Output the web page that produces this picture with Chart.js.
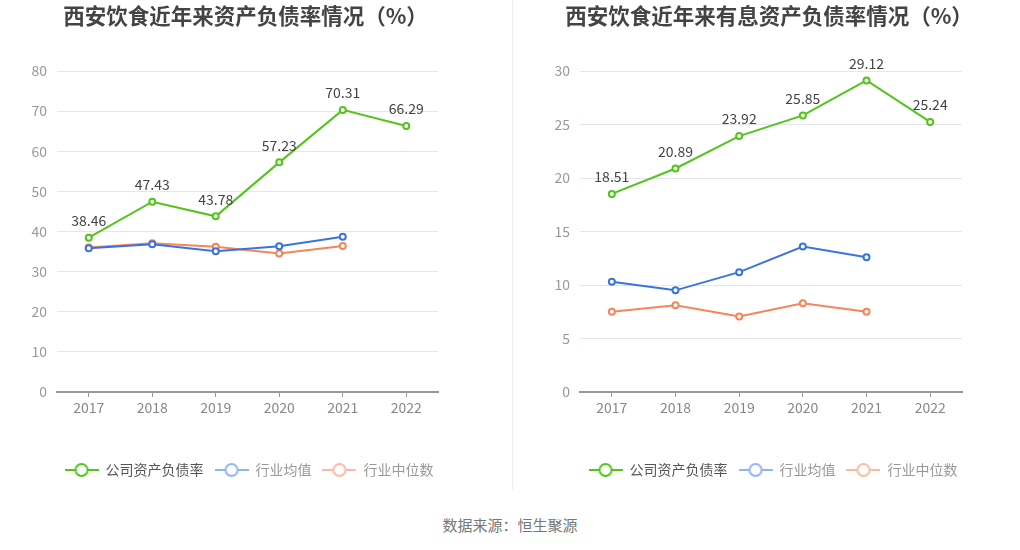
<!DOCTYPE html>
<html>
<head>
<meta charset="utf-8">
<script src="https://cdn.jsdelivr.net/npm/chart.js@4"></script>
<style>
  body { margin: 0; background: #fff; width: 1020px; height: 550px; position: relative; overflow: hidden; font-family: "Noto Sans CJK SC", sans-serif; }
  .box { position: absolute; top: 0; height: 500px; }
  #leftBox { left: 0; width: 510px; }
  #rightBox { left: 512px; width: 540px; }
  #divider { position: absolute; left: 512px; top: 0; width: 1px; height: 490px; background: #eeeeee; }
  #source { position: absolute; top: 514px; width: 1020px; text-align: center; font-size: 15px; color: #777; }
</style>
</head>
<body>
<div class="box" id="leftBox"><canvas id="leftChart"></canvas></div>
<div id="divider"></div>
<div class="box" id="rightBox"><canvas id="rightChart"></canvas></div>
<div id="source">数据来源：恒生聚源</div>
<script>
const years = ['2017', '2018', '2019', '2020', '2021', '2022'];
const seriesNames = ['公司资产负债率', '行业均值', '行业中位数'];

// left: 资产负债率
const debtRatio = [38.46, 47.43, 43.78, 57.23, 70.31, 66.29];
const debtIndustryAvg = [35.8, 36.8, 35.1, 36.3, 38.7, null];
const debtIndustryMedian = [36.0, 37.1, 36.2, 34.5, 36.4, null];
const leftTicks = [0, 10, 20, 30, 40, 50, 60, 70, 80];

// right: 有息资产负债率
const interestDebtRatio = [18.51, 20.89, 23.92, 25.85, 29.12, 25.24];
const interestIndustryAvg = [10.3, 9.5, 11.2, 13.6, 12.6, null];
const interestIndustryMedian = [7.5, 8.1, 7.05, 8.3, 7.5, null];
const rightTicks = [0, 5, 10, 15, 20, 25, 30];

const green = '#52c41a';
const blue = '#3a73e0';
const orange = '#f5855a';
const legendColors = [green, '#93b4f2', '#f9bba4'];
const legendText = ['#555', '#999', '#999'];
const font = "'Noto Sans CJK SC', sans-serif";

function markerImage(color) {
    const c = document.createElement('canvas');
    c.width = 34; c.height = 16;
    const g = c.getContext('2d');
    g.strokeStyle = color;
    g.lineWidth = 2;
    g.beginPath(); g.moveTo(0, 8); g.lineTo(34, 8); g.stroke();
    g.fillStyle = '#fff';
    g.beginPath(); g.arc(17, 8, 6, 0, Math.PI * 2); g.fill(); g.stroke();
    return c;
}

// value labels over the company series + title drawn over the plot centre
const extras = {
    id: 'extras',
    afterDatasetsDraw(chart, args, opts) {
        const ctx = chart.ctx;
        const meta = chart.getDatasetMeta(0);
        const data = chart.data.datasets[0].data;
        ctx.save();
        ctx.font = '14px ' + font;
        ctx.fillStyle = '#444';
        ctx.textAlign = 'center';
        ctx.textBaseline = 'bottom';
        meta.data.forEach(function (pt, i) {
            ctx.fillText(data[i].toFixed(2), pt.x, pt.y - 10);
        });
        const area = chart.chartArea;
        ctx.font = 'bold 21.5px ' + font;
        ctx.fillStyle = '#444';
        ctx.textBaseline = 'middle';
        ctx.fillText(opts.text, (area.left + area.right) / 2 - 2, 16);
        ctx.restore();
    }
};

function makeChart(id, title, main, avg, median, ticks, yWidth, rightGap, padRight) {
    const ds = function (label, data, color) {
        return {
            label: label,
            data: data,
            borderColor: color,
            backgroundColor: '#fff',
            borderWidth: 2,
            pointRadius: 3,
            pointBorderWidth: 2,
            pointBackgroundColor: '#fff',
            pointBorderColor: color,
            tension: 0
        };
    };
    return new Chart(document.getElementById(id), {
        type: 'line',
        data: {
            labels: years,
            datasets: [
                ds(seriesNames[0], main, green),
                ds(seriesNames[1], avg, blue),
                ds(seriesNames[2], median, orange)
            ]
        },
        options: {
            responsive: true,
            maintainAspectRatio: false,
            animation: false,
            layout: { padding: { left: 0, right: padRight, top: 71, bottom: 13 } },
            plugins: {
                extras: { text: title },
                legend: {
                    position: 'bottom',
                    labels: {
                        usePointStyle: true,
                        pointStyleWidth: 34,
                        padding: 11,
                        font: { size: 14, family: font },
                        generateLabels: function (chart) {
                            return chart.data.datasets.map(function (d, i) {
                                return {
                                    text: d.label,
                                    pointStyle: markerImage(legendColors[i]),
                                    fontColor: legendText[i],
                                    datasetIndex: i,
                                    hidden: false,
                                    lineWidth: 0
                                };
                            });
                        }
                    }
                },
                tooltip: { enabled: false }
            },
            scales: {
                x: {
                    offset: true,
                    grid: { offset: false, drawOnChartArea: false, drawTicks: true, tickLength: 5, color: '#999' },
                    border: { color: '#999', width: 2 },
                    ticks: { color: '#888', padding: 2, font: { size: 14, family: font } },
                    afterFit: function (axis) { axis.height = 60; }
                },
                y: {
                    min: ticks[0],
                    max: ticks[ticks.length - 1],
                    afterBuildTicks: function (axis) {
                        axis.ticks = ticks.map(function (v) { return { value: v }; });
                    },
                    grid: { color: '#e3e6f0', drawTicks: false },
                    border: { display: false },
                    ticks: { color: '#999', padding: 10, font: { size: 14, family: font } },
                    afterFit: function (axis) { axis.width = yWidth; }
                },
                // empty spacer on the right so the plot sits left of the legend centre
                spacer: {
                    type: 'linear',
                    position: 'right',
                    grid: { display: false },
                    border: { display: false },
                    ticks: { display: false },
                    afterFit: function (axis) { axis.width = rightGap; }
                }
            }
        },
        plugins: [extras]
    });
}

makeChart('leftChart', '西安饮食近年来资产负债率情况（%）', debtRatio, debtIndustryAvg, debtIndustryMedian, leftTicks, 57, 60, 12);
makeChart('rightChart', '西安饮食近年来有息资产负债率情况（%）', interestDebtRatio, interestIndustryAvg, interestIndustryMedian, rightTicks, 68, 72, 18);
</script>
</body>
</html>
